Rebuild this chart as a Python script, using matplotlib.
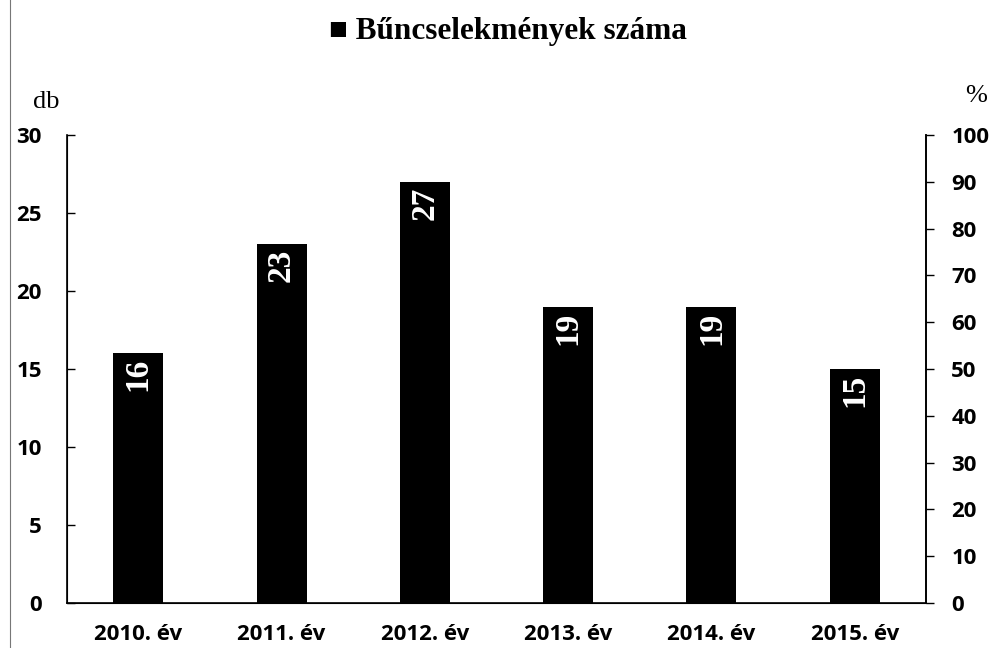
import matplotlib
matplotlib.use("Agg")
import matplotlib.pyplot as plt

# data
years = ["2010. év", "2011. év", "2012. év", "2013. év", "2014. év", "2015. év"]
counts = [16, 23, 27, 19, 19, 15]
left_ticks = [0, 5, 10, 15, 20, 25, 30]
right_ticks = [0, 10, 20, 30, 40, 50, 60, 70, 80, 90, 100]

tick_font = "Open Sans"
serif = "Liberation Serif"

fig = plt.figure(figsize=(9.96, 6.48), dpi=100)
ax = fig.add_axes([0.067, 0.0694, 0.863, 0.7223])

x = range(len(years))
ax.bar(x, counts, width=0.35, color="black")

ax.set_xlim(-0.5, len(years) - 0.5)
ax.set_ylim(0, 30)
ax.set_yticks(left_ticks)
ax.set_xticks(list(x))
ax.set_xticklabels(years, fontfamily=tick_font, fontweight="bold", fontsize=16)
ax.tick_params(axis="x", length=0, pad=15)
ax.tick_params(axis="y", direction="in", length=6, width=1, pad=18)
for lbl in ax.get_yticklabels():
    lbl.set_fontfamily(tick_font)
    lbl.set_fontweight("bold")
    lbl.set_fontsize(16)

ax.spines["top"].set_visible(False)
for s in ["left", "right", "bottom"]:
    ax.spines[s].set_linewidth(1.2)

ax2 = ax.twinx()
ax2.set_ylim(0, 100)
ax2.set_yticks(right_ticks)
ax2.tick_params(axis="y", direction="out", length=6, width=1, pad=12)
for lbl in ax2.get_yticklabels():
    lbl.set_fontfamily(tick_font)
    lbl.set_fontweight("bold")
    lbl.set_fontsize(16)
ax2.spines["top"].set_visible(False)
ax2.spines["right"].set_linewidth(1.2)

# value labels inside the bars, rotated
for xi, v in zip(x, counts):
    ax.text(xi, v - 0.3, str(v), rotation=90, ha="center", va="top",
            color="white", fontfamily=serif, fontweight="bold", fontsize=24)

fig.text(0.51, 0.951, "\u25a0 Bűncselekmények száma", ha="center", va="center",
         fontfamily=serif, fontweight="bold", fontsize=22.5)
fig.text(0.046, 0.843, "db", ha="center", va="center", fontfamily=serif, fontsize=19)
fig.text(0.98, 0.852, "%", ha="center", va="center", fontfamily=serif, fontsize=19)

# scanned page border on the left
fig.add_artist(plt.Line2D([0.01, 0.01], [0, 1], color="#777777", lw=0.8,
                          transform=fig.transFigure))

fig.savefig("out.png", dpi=100)
